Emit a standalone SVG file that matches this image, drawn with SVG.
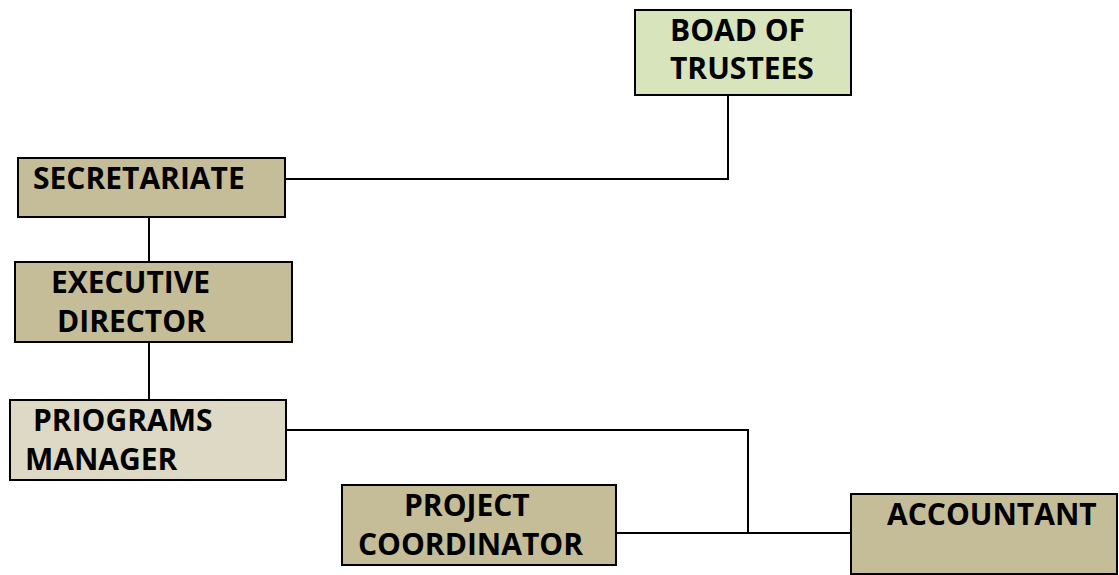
<svg xmlns="http://www.w3.org/2000/svg" width="1119" height="575" viewBox="0 0 1119 575">
<style>
.box{stroke:#000;stroke-width:2}
.t{font-family:"Open Sans","Liberation Sans",sans-serif;font-weight:700;font-size:30px;fill:#000}
.c{fill:none;stroke:#000;stroke-width:2}
</style>
<rect width="1119" height="575" fill="#fff"/>
<g id="connectors">
<polyline class="c" points="728,95 728,179 285,179"/>
<line class="c" x1="149" y1="217" x2="149" y2="262"/>
<line class="c" x1="149" y1="342" x2="149" y2="400"/>
<polyline class="c" points="286,430 748,430 748,533"/>
<line class="c" x1="616" y1="533" x2="851" y2="533"/>
</g>
<g id="board">
<rect class="box" x="635" y="10" width="216" height="85" fill="#d8e4bc"/>
<text class="t" x="670" y="41">BOAD OF</text>
<text class="t" x="670" y="79">TRUSTEES</text>
</g>
<g id="secretariate">
<rect class="box" x="18" y="158" width="267" height="59" fill="#c4bd97"/>
<text class="t" x="33" y="189">SECRETARIATE</text>
</g>
<g id="executive">
<rect class="box" x="15" y="262" width="277" height="80" fill="#c4bd97"/>
<text class="t" x="51" y="293">EXECUTIVE</text>
<text class="t" x="57" y="332">DIRECTOR</text>
</g>
<g id="programs">
<rect class="box" x="10" y="400" width="276" height="80" fill="#ddd9c4"/>
<text class="t" x="33" y="431">PRIOGRAMS</text>
<text class="t" x="25" y="470">MANAGER</text>
</g>
<g id="coordinator">
<rect class="box" x="342" y="485" width="274" height="80" fill="#c4bd97"/>
<text class="t" x="404" y="516">PROJECT</text>
<text class="t" x="358" y="555">COORDINATOR</text>
</g>
<g id="accountant">
<rect class="box" x="851" y="494" width="266" height="80" fill="#c4bd97"/>
<text class="t" x="887" y="525">ACCOUNTANT</text>
</g>
</svg>
